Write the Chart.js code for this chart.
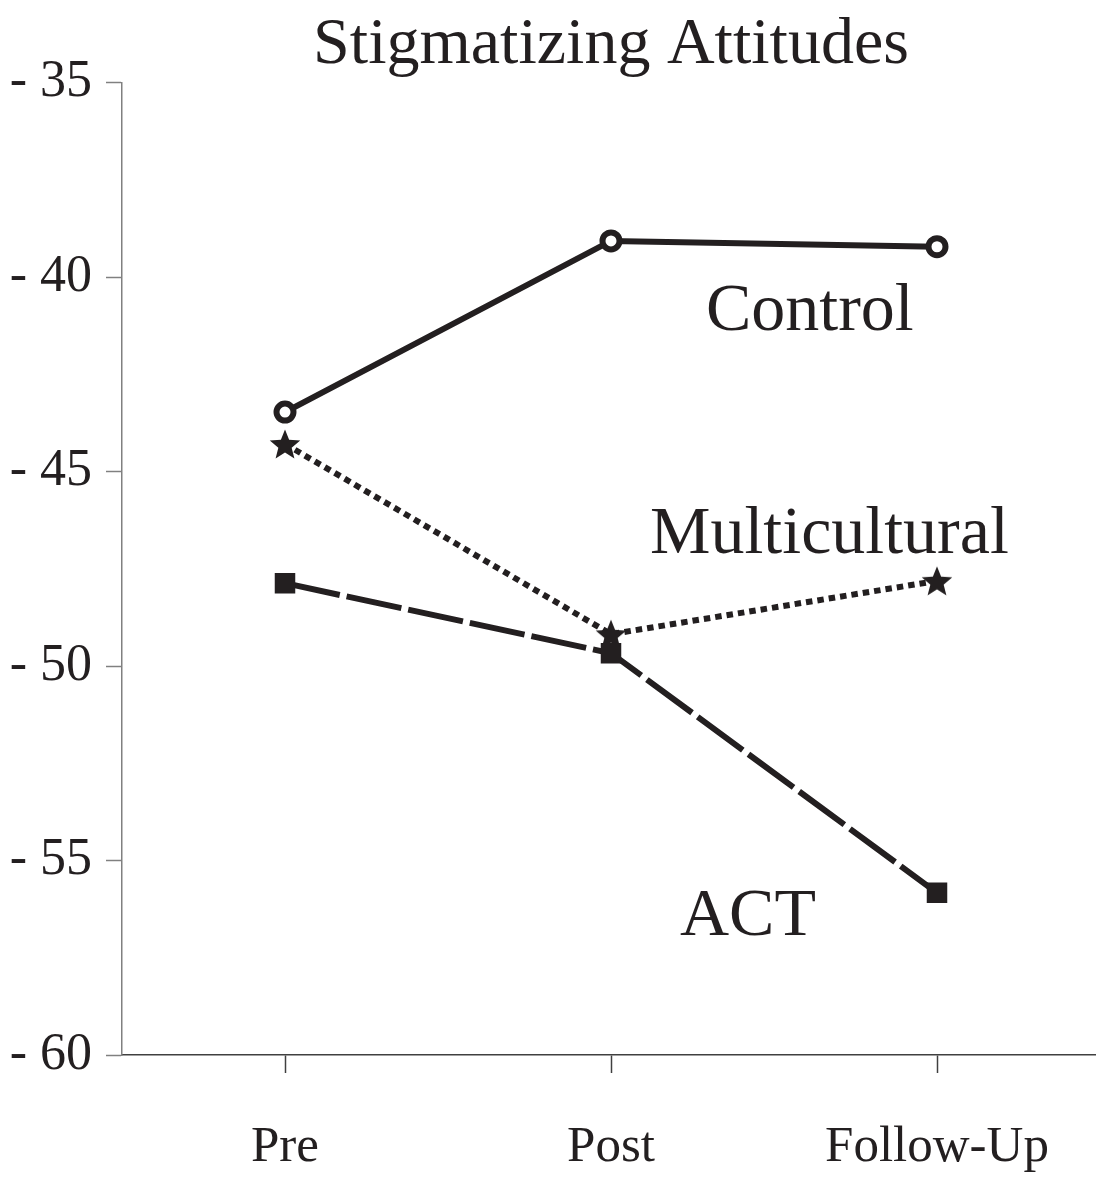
<!DOCTYPE html>
<html>
<head>
<meta charset="utf-8">
<script src="https://cdn.jsdelivr.net/npm/chart.js@4.4.0/dist/chart.umd.min.js"></script>
<style>
  body { margin: 0; background: #fff; overflow: hidden; }
  .caja { position: relative; width: 1100px; height: 1177px; }
</style>
</head>
<body>
<div class="caja"><canvas id="grafico"></canvas></div>
<script>
// datos
var momentos = ["Pre", "Post", "Follow-Up"];
var control = [-43.47, -39.07, -39.22];
var multicultural = [-44.29, -49.18, -47.81];
var act = [-47.87, -49.67, -55.83];
var ticksY = [-60, -55, -50, -45, -40, -35];

var negro = "#231f20";
var fuente = "'Liberation Serif', 'DejaVu Serif', serif";

// estrella rellena para los marcadores de multicultural
var estrella = document.createElement("canvas");
estrella.width = 34;
estrella.height = 34;
var c = estrella.getContext("2d");
c.fillStyle = negro;
c.beginPath();
for (var i = 0; i < 10; i++) {
  var r = i % 2 == 0 ? 16 : 7;
  var a = -Math.PI / 2 + i * Math.PI / 5;
  var px = 17 + r * Math.cos(a);
  var py = 18.5 + r * Math.sin(a);
  if (i == 0) c.moveTo(px, py); else c.lineTo(px, py);
}
c.closePath();
c.fill();

// etiquetas de cada serie dentro del grafico
var etiquetas = [
  { texto: "Control", x: 1.61, y: -41.36 },
  { texto: "Multicultural", x: 1.67, y: -47.09 },
  { texto: "ACT", x: 1.42, y: -56.92 }
];

var pluginEtiquetas = {
  id: "etiquetas",
  afterDatasetsDraw: function (chart) {
    var ctx = chart.ctx;
    ctx.save();
    ctx.fillStyle = negro;
    ctx.font = "68px " + fuente;
    ctx.textAlign = "center";
    ctx.textBaseline = "alphabetic";
    etiquetas.forEach(function (e) {
      ctx.fillText(e.texto, chart.scales.x.getPixelForValue(e.x), chart.scales.y.getPixelForValue(e.y));
    });
    ctx.restore();
  }
};

new Chart(document.getElementById("grafico"), {
  type: "line",
  data: {
    labels: momentos,
    datasets: [
      {
        label: "ACT",
        data: act,
        borderColor: negro,
        backgroundColor: negro,
        borderWidth: 6,
        borderDash: [56, 7],
        pointStyle: "rect",
        pointRadius: 14.5,
        pointBorderWidth: 0,
        tension: 0
      },
      {
        label: "Multicultural",
        data: multicultural,
        borderColor: negro,
        backgroundColor: negro,
        borderWidth: 6,
        borderDash: [6.5, 5],
        pointStyle: estrella,
        pointRadius: 16,
        tension: 0
      },
      {
        label: "Control",
        data: control,
        borderColor: negro,
        backgroundColor: "#fff",
        borderWidth: 6,
        pointStyle: "circle",
        pointRadius: 8.5,
        pointBorderWidth: 6,
        pointBorderColor: negro,
        tension: 0
      }
    ]
  },
  options: {
    responsive: true,
    maintainAspectRatio: false,
    animation: false,
    layout: { autoPadding: false, padding: { left: 0, right: 0, top: 0, bottom: 0 } },
    plugins: {
      legend: { display: false },
      tooltip: { enabled: false },
      title: {
        display: true,
        text: "Stigmatizing Attitudes",
        color: negro,
        fullSize: false,
        font: { family: fuente, size: 66, weight: "normal", lineHeight: 1.1 },
        padding: { top: 9, bottom: 1 }
      }
    },
    scales: {
      x: {
        offset: true,
        afterFit: function (s) {
          s.height = 122;
          s.paddingLeft = 0;
          s.paddingRight = 0;
        },
        grid: {
          display: true,
          drawOnChartArea: false,
          drawTicks: true,
          tickLength: 18,
          tickColor: "#404040",
          tickWidth: 1.5
        },
        border: { display: true, color: "#404040", width: 1.5 },
        ticks: {
          color: negro,
          padding: 44,
          font: { family: fuente, size: 51 }
        }
      },
      y: {
        min: -60,
        max: -35,
        afterFit: function (s) {
          s.width = 122;
          s.paddingTop = 0;
          s.paddingBottom = 0;
        },
        afterBuildTicks: function (s) {
          s.ticks = ticksY.map(function (v) { return { value: v }; });
        },
        grid: {
          display: true,
          drawOnChartArea: false,
          drawTicks: true,
          tickLength: 16,
          tickColor: "#808080",
          tickWidth: 1.5
        },
        border: { display: true, color: "#808080", width: 1.5 },
        ticks: {
          color: negro,
          padding: 14,
          font: { family: fuente, size: 52 },
          callback: function (v) { return "- " + Math.abs(v); }
        }
      }
    }
  },
  plugins: [pluginEtiquetas]
});
</script>
</body>
</html>
